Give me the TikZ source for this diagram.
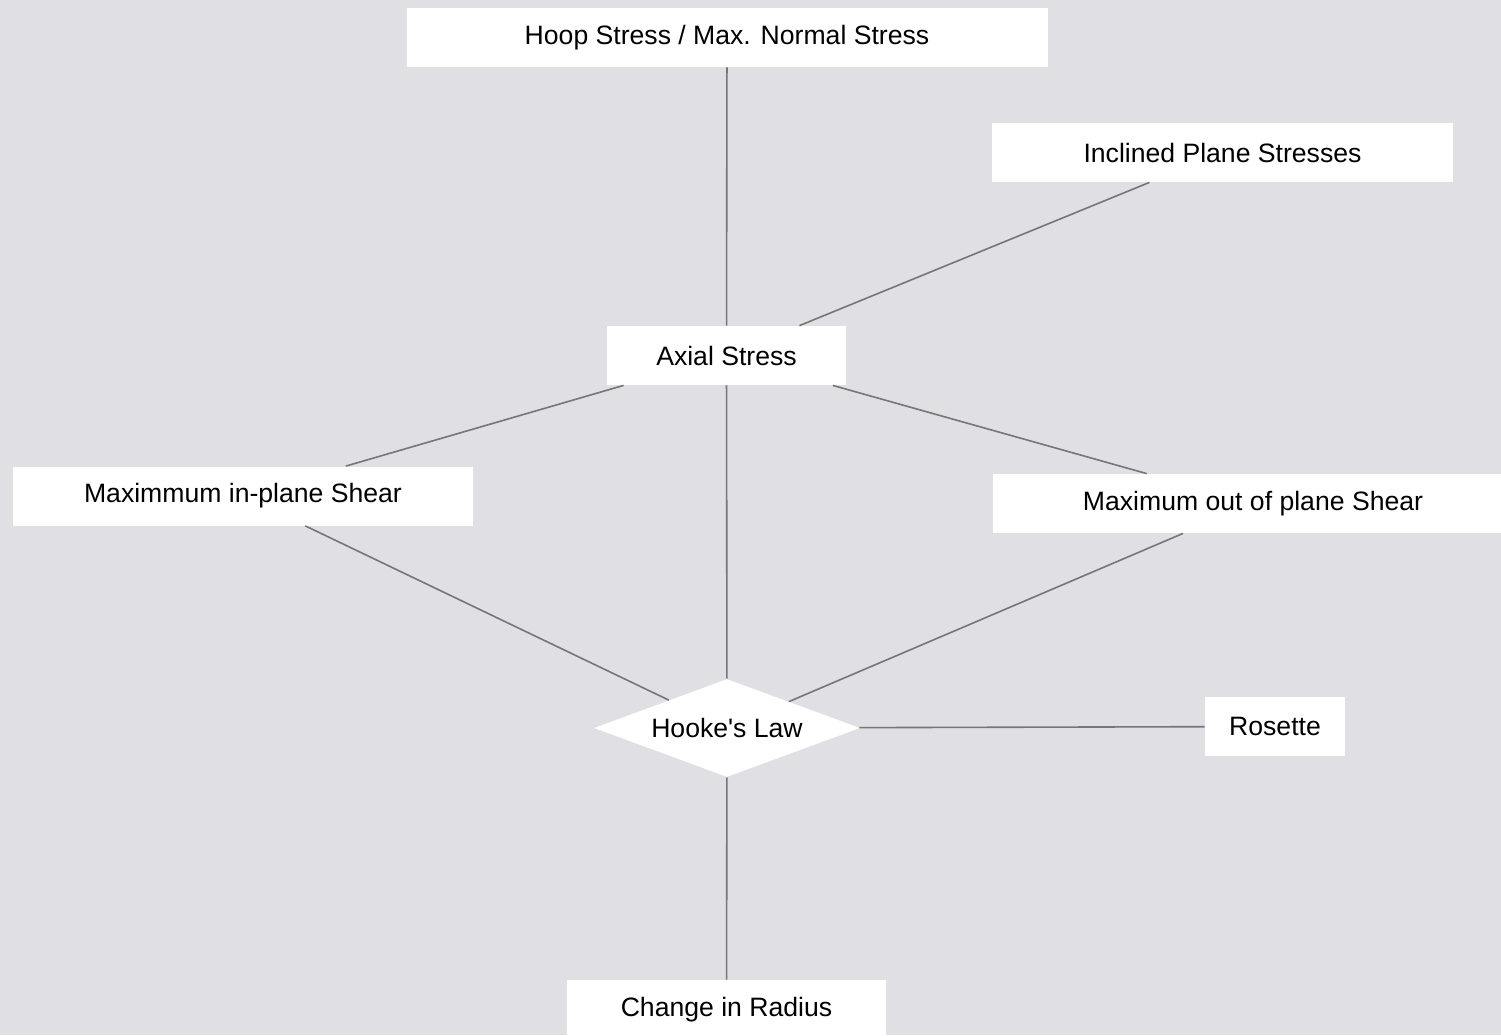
\documentclass[tikz,border=0pt]{standalone}
\usepackage{fontspec}
\setmainfont{Liberation Sans}
\usetikzlibrary{shapes.geometric}
\definecolor{bgc}{HTML}{E0DFE3}
\definecolor{linec}{HTML}{767676}
\tikzset{
  box/.style={rectangle, fill=white, draw=none, inner sep=0pt, minimum height=29.5pt,
    font=\fontsize{13.3}{16}\selectfont, text=black},
  decision/.style={diamond, fill=white, draw=none, inner sep=0pt, aspect=2.7,
    minimum width=133pt, minimum height=49pt, font=\fontsize{13.3}{16}\selectfont, text=black},
  link/.style={draw=linec, line width=0.8pt}
}
\begin{document}
\begin{tikzpicture}[x=0.5pt, y=-0.5pt]
\fill[bgc] (0,0) rectangle (1501,1035);
\clip (0,0) rectangle (1501,1035);
\useasboundingbox (0,0) rectangle (1501,1035);
\node[box, minimum width=320.5pt] (hoop) at (727,37.5) {Hoop Stress / Max. Normal Stress};
\node[box, minimum width=230.5pt] (incl) at (1222.5,152.5) {Inclined Plane Stresses};
\node[box, minimum width=119.5pt] (axial) at (726.5,355.5) {Axial Stress};
\node[box, minimum width=230pt] (inplane) at (243,496) {Maximmum in-plane Shear};
\node[box, minimum width=260pt] (outplane) at (1253,503.5) {Maximum out of plane Shear};
\node[decision] (hooke) at (727,728) {Hooke\textquotesingle s Law};
\node[box, minimum width=70pt] (rosette) at (1275,726.5) {Rosette};
\node[box, minimum width=159.5pt] (radius) at (726.5,1009.5) {Change in Radius};
\draw[link] (hoop) -- (axial);
\draw[link] (incl) -- (axial);
\draw[link] (axial) -- (inplane);
\draw[link] (axial) -- (outplane);
\draw[link] (axial) -- (hooke);
\draw[link] (inplane) -- (hooke);
\draw[link] (outplane) -- (hooke);
\draw[link] (hooke) -- (rosette);
\draw[link] (hooke) -- (radius);
\end{tikzpicture}
\end{document}
